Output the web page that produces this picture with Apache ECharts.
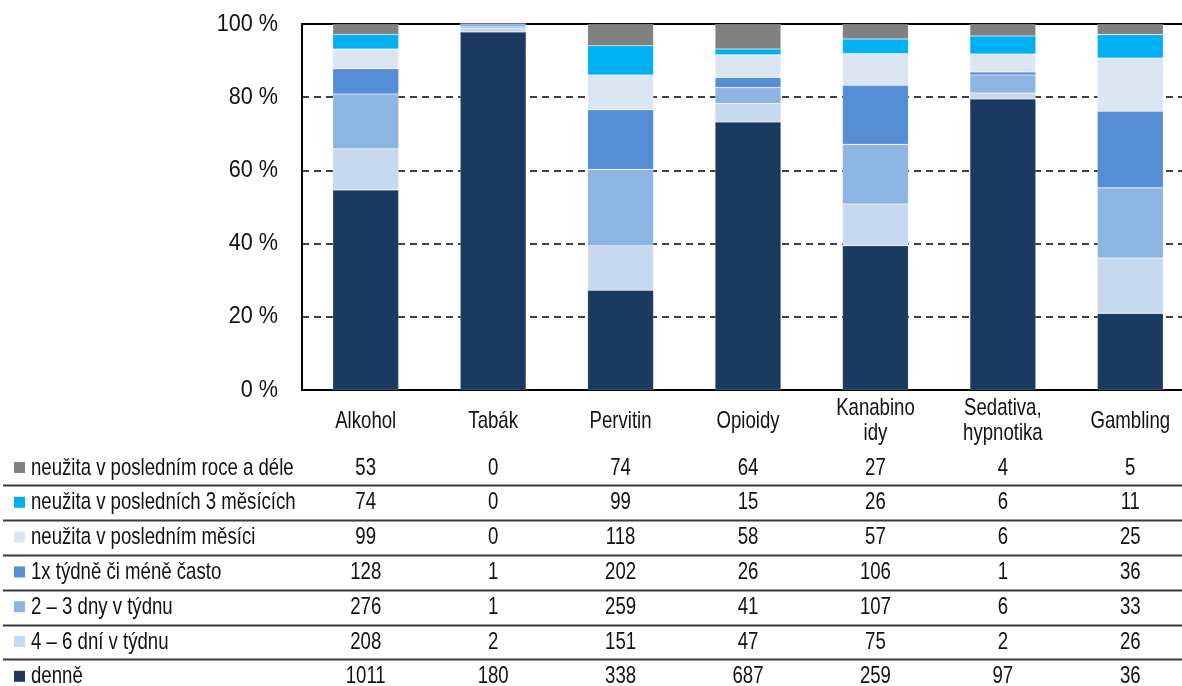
<!DOCTYPE html>
<html lang="cs">
<head>
    <meta charset="UTF-8">
    <title>Frekvence užívání</title>
    <script src="https://cdn.jsdelivr.net/npm/echarts@6/dist/echarts.min.js"></script>
    <style>
        html, body { margin: 0; padding: 0; background: #fff; }
        #chart { width: 1182px; height: 686px; }
    </style>
</head>
<body>
<div id="chart"></div>
<script>
    // kategorie a hodnoty (počty) z tabulky
    var categories = ['Alkohol', 'Tabák', 'Pervitin', 'Opioidy', 'Kanabino\nidy', 'Sedativa,\nhypnotika', 'Gambling']
    var yTicks = [0, 20, 40, 60, 80, 100]

    // od spodu sloupce nahoru
    var seriesNames = [
        'denně',
        '4 – 6 dní v týdnu',
        '2 – 3 dny v týdnu',
        '1x týdně či méně často',
        'neužita v posledním měsíci',
        'neužita v posledních 3 měsících',
        'neužita v posledním roce a déle'
    ]
    var denne = [1011, 180, 338, 687, 259, 97, 36]
    var dni46 = [208, 2, 151, 47, 75, 2, 26]
    var dny23 = [276, 1, 259, 41, 107, 6, 33]
    var tydne1x = [128, 1, 202, 26, 106, 1, 36]
    var mesic = [99, 0, 118, 58, 57, 6, 25]
    var mesice3 = [74, 0, 99, 15, 26, 6, 11]
    var rok = [53, 0, 74, 64, 27, 4, 5]
    var colors = ['#1a3a5f', '#c6d9f1', '#8eb4e3', '#558ed5', '#dce6f2', '#00b0f0', '#808080']

    var allData = [denne, dni46, dny23, tydne1x, mesic, mesice3, rok]
    // "narrow" písmo: Liberation Sans stažené do šířky
    var narrowFont = "24px 'Liberation Sans', Arial, sans-serif"
    var squeeze = 0.775

    var totals = categories.map(function (c, i) {
        var s = 0
        for (var k = 0; k < allData.length; k++) s += allData[k][i]
        return s
    })

    var series = allData.map(function (arr, k) {
        return {
            name: seriesNames[k],
            type: 'bar',
            stack: 'a',
            barWidth: 66,
            itemStyle: { color: colors[k], borderColor: 'rgba(255,255,255,0.3)', borderWidth: 0.6 },
            data: arr.map(function (v, i) { return v / totals[i] * 100 })
        }
    })

    var myChart = echarts.init(document.getElementById('chart'))
    myChart.setOption({
        animation: false,
        grid: { left: 302, top: 24, width: 892, height: 366, containLabel: false, outerBoundsMode: 'none' },
        xAxis: [{
            type: 'category',
            data: categories,
            axisLine: { lineStyle: { color: '#000', width: 2 } },
            axisTick: { show: false },
            axisLabel: { show: false }
        }, {
            type: 'category',
            position: 'top',
            data: categories,
            axisLine: { lineStyle: { color: '#000', width: 2 } },
            axisTick: { show: false },
            axisLabel: { show: false }
        }],
        yAxis: {
            type: 'value',
            min: 0,
            max: 100,
            interval: 20,
            axisLine: { show: true, lineStyle: { color: '#000', width: 2 } },
            axisTick: { show: false },
            axisLabel: { show: false },
            splitLine: { show: true, lineStyle: { color: '#000', width: 1.5, type: [7, 5] } }
        },
        series: series
    })

    var g = []
    // popisky osy y
    yTicks.forEach(function (t) {
        var ty = myChart.convertToPixel({ yAxisIndex: 0 }, t)
        g.push({
            type: 'text', x: 278, y: ty, scaleX: 0.9,
            style: { text: t + ' %', fill: '#111', font: "24px 'Liberation Sans', Arial, sans-serif", verticalAlign: 'middle', align: 'right' }
        })
    })
    // popisky kategorií
    for (var i = 0; i < categories.length; i++) {
        var cx = myChart.convertToPixel({ xAxisIndex: 0 }, categories[i])
        g.push({
            type: 'text', x: cx, y: 421, scaleX: squeeze,
            style: { text: categories[i], fill: '#111', font: narrowFont, lineHeight: 25, verticalAlign: 'middle', align: 'center' }
        })
    }

    // datová tabulka pod grafem
    var rowTop = 468, rowH = 34.8
    for (var r = 0; r < seriesNames.length; r++) {
        var k = seriesNames.length - 1 - r
        var cy = rowTop + r * rowH
        g.push({ type: 'rect', shape: { x: 14, y: cy - 6, width: 11, height: 11 }, style: { fill: colors[k] } })
        g.push({
            type: 'text', x: 31, y: cy, scaleX: squeeze,
            style: { text: seriesNames[k], fill: '#111', font: narrowFont, verticalAlign: 'middle', align: 'left' }
        })
        for (var i = 0; i < categories.length; i++) {
            var px = myChart.convertToPixel({ xAxisIndex: 0 }, categories[i])
            g.push({
                type: 'text', x: px, y: cy, scaleX: squeeze,
                style: { text: String(allData[k][i]), fill: '#111', font: narrowFont, verticalAlign: 'middle', align: 'center' }
            })
        }
        if (r < seriesNames.length - 1) {
            var ly = Math.round(cy + rowH / 2) + 0.5
            g.push({ type: 'line', shape: { x1: 3, y1: ly, x2: 1182, y2: ly }, style: { stroke: '#3a3a3a', lineWidth: 2 } })
        }
    }
    myChart.setOption({ graphic: g })
</script>
</body>
</html>
